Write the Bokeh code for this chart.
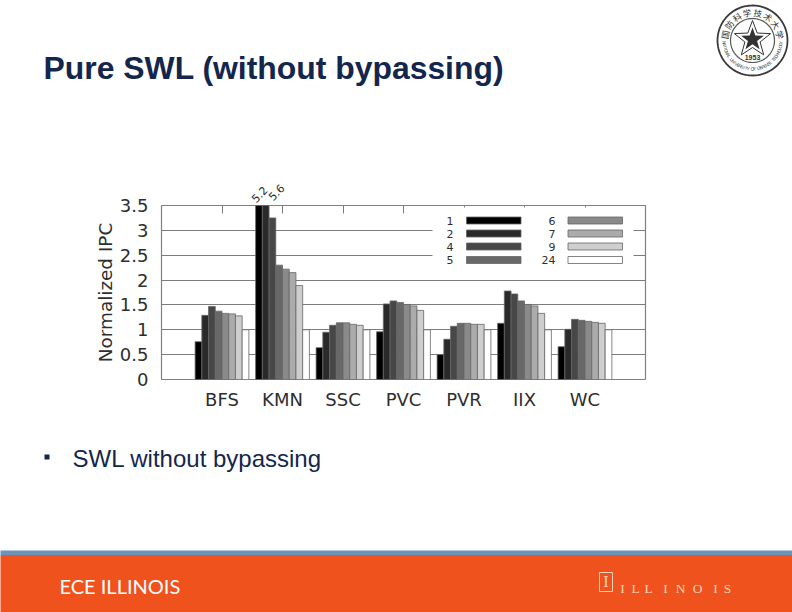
import math
import numpy as np
from bokeh.embed import file_html
from bokeh.resources import INLINE
from bokeh.plotting import figure
from bokeh.models import (BoxAnnotation, ColumnDataSource, FixedTicker, Label,
                          LinearAxis, PolyAnnotation)

categories = ["BFS", "KMN", "SSC", "PVC", "PVR", "IIX", "WC"]
s1 = [0.76, 5.2, 0.64, 0.96, 0.50, 1.13, 0.66]
s2 = [1.29, 5.6, 0.95, 1.52, 0.81, 1.78, 1.01]
s4 = [1.47, 3.25, 1.09, 1.58, 1.07, 1.72, 1.21]
s5 = [1.375, 2.30, 1.14, 1.55, 1.13, 1.58, 1.19]
s6 = [1.33, 2.22, 1.14, 1.51, 1.13, 1.51, 1.17]
s7 = [1.32, 2.15, 1.11, 1.48, 1.11, 1.48, 1.15]
s9 = [1.28, 1.89, 1.09, 1.39, 1.11, 1.33, 1.13]
s24 = [1.0, 1.0, 1.0, 1.0, 1.0, 1.0, 1.0]
series = [("1", s1, "#000000"), ("2", s2, "#2a2a2a"), ("4", s4, "#474747"), ("5", s5, "#686868"),
          ("6", s6, "#8a8a8a"), ("7", s7, "#ababab"), ("9", s9, "#cecece"), ("24", s24, "#ffffff")]
y_ticks = [0, 0.5, 1, 1.5, 2, 2.5, 3, 3.5]
y_tick_labels = ["0", "0.5", "1", "1.5", "2", "2.5", "3", "3.5"]
title = "Pure SWL (without bypassing)"
bullet_text = "SWL without bypassing"

W, H = 792, 612
NAVY = "#14264c"
GRAY = "#7d7d7d"
INK = "#2e2e2e"

# slide background layer: its frame fills the whole page
bg = figure(width=W, height=H, output_backend="svg", toolbar_location=None,
            x_range=(0, W), y_range=(H, 0), x_axis_type=None, y_axis_type=None,
            min_border_left=0, min_border_right=0, min_border_top=0, min_border_bottom=0,
            background_fill_color="#ffffff", border_fill_color="#ffffff", margin=(0, 0, 0, 0))
bg.outline_line_color = None
bg.grid.visible = False

# chart layer: transparent, laid over the slide
p = figure(width=W, height=H, output_backend="svg", toolbar_location=None,
           x_range=(-1, 7), y_range=(0, 3.5), x_axis_type=None,
           min_border_left=161, min_border_right=147, min_border_top=205, min_border_bottom=233,
           background_fill_color=None, border_fill_color=None, margin=(-H, 0, 0, 0))
p.outline_line_color = "#808080"
p.outline_line_width = 1.2

idx = np.arange(len(categories))
for k, (name, vals, col) in enumerate(series):
    src = ColumnDataSource(dict(x=idx + (k - 3.5) / 9, top=vals))
    p.vbar(x="x", top="top", bottom=0, width=1 / 9, source=src,
           fill_color=col, line_color="#666666", line_width=0.8)

p.xgrid.visible = False
p.ygrid.grid_line_color = GRAY
p.ygrid.grid_line_width = 1.2
p.ygrid.ticker = FixedTicker(ticks=y_ticks)

yax = p.yaxis[0]
yax.ticker = FixedTicker(ticks=y_ticks)
yax.major_label_overrides = {t: l for t, l in zip(y_ticks, y_tick_labels)}
yax.major_tick_line_color = None
yax.major_tick_out = 0
yax.major_tick_in = 0
yax.minor_tick_line_color = None
yax.minor_tick_out = 0
yax.axis_line_color = None
yax.major_label_text_font = "DejaVu Sans"
yax.major_label_text_font_size = "18px"
yax.major_label_text_color = INK
yax.major_label_standoff = 13
yax.axis_label = "Normalized IPC"
yax.axis_label_text_font = "DejaVu Sans"
yax.axis_label_text_font_size = "18.4px"
yax.axis_label_text_font_style = "normal"
yax.axis_label_text_color = INK
yax.axis_label_standoff = 1

xax = LinearAxis(ticker=FixedTicker(ticks=list(idx)),
                 major_label_overrides={int(i): c for i, c in zip(idx, categories)})
xax.axis_line_color = None
xax.major_tick_line_color = None
xax.major_tick_out = 0
xax.major_tick_in = 0
xax.minor_tick_line_color = None
xax.minor_tick_out = 0
xax.major_label_text_font = "DejaVu Sans"
xax.major_label_text_font_size = "18px"
xax.major_label_text_color = INK
xax.major_label_standoff = 9
p.add_layout(xax, "below")

top = LinearAxis(ticker=FixedTicker(ticks=list(idx)), major_label_text_font_size="0px")
top.axis_line_color = None
top.minor_tick_line_color = None
top.major_tick_line_color = GRAY
top.major_tick_in = 8
top.major_tick_out = 0
top.major_label_text_color = None
p.add_layout(top, "above")


def box(fig, x0, y0, x1, y1, fill, line=None, lw=0):
    fig.add_layout(BoxAnnotation(left=x0, right=x1, top=y0, bottom=y1,
                                 left_units="canvas", right_units="canvas",
                                 top_units="canvas", bottom_units="canvas",
                                 fill_color=fill, fill_alpha=1, line_color=line,
                                 line_width=lw, line_alpha=1 if line else 0, editable=False))


def text(fig, x, y, s, size, color=INK, font="DejaVu Sans", align="left", base="middle",
         style="normal", angle=0.0):
    fig.add_layout(Label(x=x, y=y, x_units="canvas", y_units="canvas", text=s,
                         text_font=font, text_font_size=f"{size}px", text_color=color,
                         text_align=align, text_baseline=base, text_font_style=style,
                         angle=angle, angle_units="deg"))


def poly(fig, pts, fill, line=None, lw=0):
    fig.add_layout(PolyAnnotation(xs=[a for a, _ in pts], ys=[b for _, b in pts],
                                  xs_units="canvas", ys_units="canvas",
                                  fill_color=fill, fill_alpha=1, line_color=line,
                                  line_width=lw, line_alpha=1 if line else 0))


def circle(fig, cx, cy, r, fill, line=None, lw=0):
    poly(fig, [(cx + r * math.cos(t), cy + r * math.sin(t))
               for t in np.linspace(0, 2 * math.pi, 90)[:-1]], fill, line, lw)


def star_pts(cx, cy, r_out, r_in):
    return [(cx + (r_out if i % 2 == 0 else r_in) * math.cos(-math.pi / 2 + i * math.pi / 5),
             cy + (r_out if i % 2 == 0 else r_in) * math.sin(-math.pi / 2 + i * math.pi / 5))
            for i in range(10)]


# clipped-bar value labels
text(bg, 259, 194, "5.2", 11, angle=45, align="center")
text(bg, 276, 192, "5.6", 11, angle=45, align="center")

# legend (inside the chart frame)
box(p, 432, 207, 633, 264, "#ffffff")
rows = [220, 233, 246, 259.5]
for k, (name, vals, col) in enumerate(series):
    c = k // 4
    r = rows[k % 4]
    text(p, 453 if c == 0 else 555, r, name, 11, align="right")
    x0 = 466 if c == 0 else 567.5
    box(p, x0, r - 3.5, x0 + 54.5, r + 3.5, col, "#666666", 0.8)

# slide text
text(bg, 43, 67.5, title, 31.9, color=NAVY, font="Liberation Sans", style="bold")
box(bg, 44, 454, 49, 459, NAVY)
text(bg, 72, 457.5, bullet_text, 24, color=NAVY, font="Liberation Sans")

# footer
box(bg, -3, 550, W + 3, 554.5, "#6c94b9")
box(bg, -3, 554.5, W + 3, H + 3, "#f0521e")
text(bg, 59, 585, "ECE ILLINOIS", 20, color="#ffffff", font="Lato")
LOGO = "#f7d3bb"
box(bg, 599, 572, 612, 591, "#f0521e", LOGO, 1)
text(bg, 605.5, 581, "I", 16, color=LOGO, font="Liberation Serif", align="center")
for ch, x in zip("ILLINOIS", [622, 635, 648, 665, 680, 697, 715, 727]):
    text(bg, x, 588, ch, 13.5, color=LOGO, font="Liberation Serif", align="center")

# seal
cx, cy, R = 752, 40, 35
circle(bg, cx, cy, R, "#ffffff", "#3a3a3a", 1.8)
circle(bg, cx, cy, 22, "#ffffff", "#555555", 1.2)
poly(bg, star_pts(cx, cy - 1, 19, 8), "#ffffff", "#333333", 1)
poly(bg, star_pts(cx, cy - 1, 12, 4.8), "#333333")
for i, ch in enumerate("国防科学技术大学"):
    a = -168 + i * 156 / 7
    t = math.radians(a)
    text(bg, cx + 28.5 * math.cos(t), cy + 28.5 * math.sin(t), ch, 8.5, color="#333333",
         font="Noto Sans CJK SC", align="center", angle=-(a + 90))
latin = "NATIONAL UNIVERSITY OF DEFENSE TECHNOLOGY"
for i, ch in enumerate(latin):
    a = 176 - i * 172 / (len(latin) - 1)
    t = math.radians(a)
    text(bg, cx + 28.5 * math.cos(t), cy + 28.5 * math.sin(t), ch, 4.5, color="#444444",
         font="Liberation Sans", align="center", angle=-(a - 90))
text(bg, cx, cy + 17, "1953", 7, color="#333333", font="Liberation Sans", align="center", style="bold")

open("out.html", "w").write(file_html([bg, p], INLINE))
